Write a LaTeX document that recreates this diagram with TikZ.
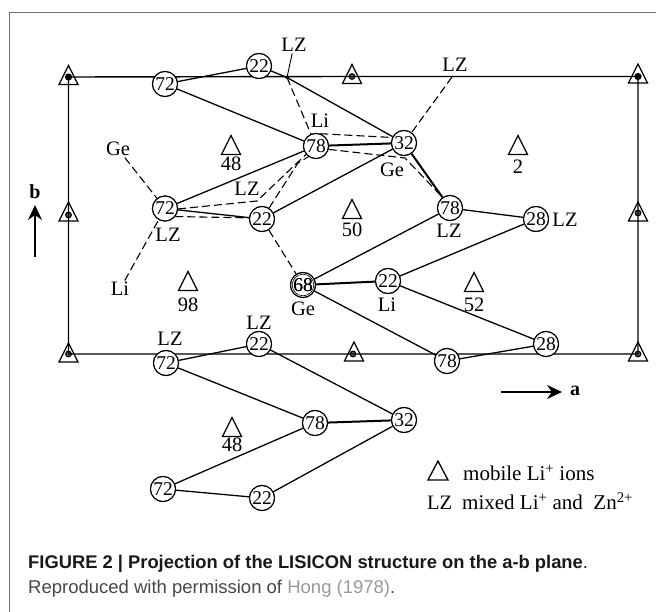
\documentclass[tikz,border=0pt]{standalone}
\usepackage{fontspec}
\setmainfont{Liberation Serif}
\newfontfamily\capfont{Liberation Sans}
\usetikzlibrary{arrows.meta}
\definecolor{framegray}{gray}{0.45}
\definecolor{capdark}{gray}{0.1}
\definecolor{capgray}{gray}{0.6}
\tikzset{
  x=1pt,y=-1pt,
  site/.style={circle,draw,line width=1.1pt,minimum size=25pt,inner sep=0pt,font=\fontsize{19.5}{15}\selectfont,fill=white},
  lab/.style={inner sep=1.5pt,font=\fontsize{20.5}{15}\selectfont},
  legendtext/.style={anchor=west,inner sep=0pt,font=\fontsize{21}{15}\selectfont},
  tri/.style={line width=1.3pt,line join=miter},
  bond/.style={line width=1.3pt},
  heavy/.style={line width=2pt},
  dbond/.style={line width=1.1pt,dash pattern=on 8pt off 4pt},
  cell/.style={line width=1.4pt},
  axis/.style={line width=1.2pt,-{Stealth[length=15pt,width=14pt,inset=5pt]}},
  axlabel/.style={inner sep=0pt,font=\fontsize{20}{15}\selectfont\bfseries},
  capl/.style={anchor=west,inner sep=0pt},
}
\newcommand{\mytri}[2]{\draw[tri] (#1-9.5,#2+9.5) -- (#1,#2-9.5) -- (#1+9.5,#2+9.5) -- cycle;}
\begin{document}
\begin{tikzpicture}
\useasboundingbox (0,0) rectangle (656,612);
\draw[framegray,line width=1.2pt] (9.5,612) -- (9.5,12.8) -- (656,12.8);

% unit cell
\coordinate (c1) at (68.5,77); \coordinate (c2) at (352,76.5); \coordinate (c3) at (638,76.5);
\coordinate (c4) at (68.5,215); \coordinate (c5) at (638,213);
\coordinate (c6) at (68.5,354); \coordinate (c7) at (353,354); \coordinate (c8) at (638,354);
\draw[cell] (c1) -- (c2) -- (c3) -- (c5) -- (c8) -- (c7) -- (c6) -- (c4) -- (c1);
\foreach \x/\y in {68.5/75,352/74,638/73.5,68.5/211.5,638/211.5,68.5/352.5,354/351.5,638/351.5}{\mytri{\x}{\y}}
\fill (c1) circle (3.6pt); \fill (c3) circle (3.6pt);
\foreach \c in {c2,c7,c4,c5,c6,c8}{\draw[line width=1.2pt,fill=black,fill opacity=0.6] (\c) circle (2.8pt);}

% sites
\node[site] (ta) at (165,84) {72};
\node[site] (tb) at (259,66) {22};
\node[site] (tc) at (316,146) {78};
\node[site] (td) at (404,143) {32};
\node[site] (ma) at (165,208.5) {72};
\node[site] (mb) at (262,219) {22};
\node[site] (mc) at (303,285) {68};
\node[site] (md) at (450,208) {78};
\node[site] (me) at (536,219) {28};
\node[site] (mf) at (388,281) {22};
\node[site] (la) at (166,363) {72};
\node[site] (lb) at (259,344) {22};
\node[site] (lc) at (447,361) {78};
\node[site] (ld) at (546,344) {28};
\node[site] (ba) at (315,423) {78};
\node[site] (bb) at (404,420) {32};
\node[site] (bc) at (163,489) {72};
\node[site] (bd) at (262,498) {22};

% labels
\node[lab] (l1) at (294,45) {LZ};
\node[lab] (l2) at (455,65) {LZ};
\node[lab] (l3) at (320,121) {Li};
\node[lab] (l4) at (118,149) {Ge};
\node[lab] (l5) at (247,189) {LZ};
\node[lab] (l6) at (168,235) {LZ};
\node[lab] (l7) at (120,289) {Li};
\node[lab] (l8) at (392,170) {Ge};
\node[lab] (l9) at (449,231) {LZ};
\node[lab] (l10) at (565,220) {LZ};
\node[lab] (l11) at (303,309) {Ge};
\node[lab] (l12) at (387,305) {Li};
\node[lab] (l13) at (259,323) {LZ};
\node[lab] (l14) at (170,339) {LZ};

% free triangles
\foreach \x/\y/\t/\ty in {231/145/48/164,518/145/2/167,352/209/50/230,188/281/98/305,474/282/52/305,232/427/48/445}{
  \mytri{\x}{\y}
  \node[lab] at (\x,\ty) {\t};
}

% solid bonds
\coordinate (pz) at (287,77.5);
\coordinate (pl) at (452,77);
\draw[bond] (ta) -- (tb);
\draw[bond] (ta) -- (tc);
\draw[bond] (tb) -- (pz) -- (td);
\draw[heavy] (tc) -- (td);
\draw[bond] (ma) -- (tc);
\draw[bond] (ma) -- (mb);
\draw[bond] (mb) -- (td);
\draw[heavy] (td) -- (md);
\draw[bond] (mc) -- (md);
\draw[bond] (md) -- (me);
\draw[bond] (me) -- (mf);
\draw[heavy] (mc) -- (mf);
\draw[bond] (mf) -- (ld);
\draw[bond] (mc) -- (lc);
\draw[bond] (lc) -- (ld);
\draw[bond] (la) -- (lb);
\draw[bond] (la) -- (ba);
\draw[bond] (lb) -- (bb);
\draw[heavy] (ba) -- (bb);
\draw[bond] (bc) -- (ba);
\draw[bond] (bc) -- (bd);
\draw[bond] (bd) -- (bb);
\draw[line width=0.9pt] (l1) -- (pz);
\fill (pz) circle (1.8pt);

% dashed bonds
\coordinate (q1) at (257,201);
\coordinate (q2) at (298,163);
\coordinate (q3) at (405,158);
\draw[dbond] (pz) -- (tc);
\draw[dbond] (pl) -- (td);
\draw[dbond] (l4) -- (ma);
\draw[dbond] (l7) -- (ma);
\draw[dbond] (ma.-2) -- (q1) -- (tc.-140);
\draw[dbond] (ma.-38) -- (mb.175);
\draw[dbond] (mb) -- (q2) -- (tc.-125);
\draw[dbond] (mb) -- (mc);
\draw[dbond] (tc.70) -- (td.155);
\draw[dbond] (tc.-15) -- (q3) -- (md.125);

% re-draw sites over connectors
\foreach \n/\t in {ta/72,tb/22,tc/78,td/32,ma/72,mb/22,mc/68,md/78,me/28,mf/22,la/72,lb/22,lc/78,ld/28,ba/78,bb/32,bc/72,bd/22}{
  \node[site] at (\n) {\t};
}
\draw[line width=0.6pt] (mc) circle (10.8pt);
\node[site,draw=none,fill=none] at (mc) {68};

% axes
\coordinate (b0) at (35,257); \coordinate (b1) at (35,205);
\draw[axis] (b0) -- (b1);
\node[axlabel] at (35,192) {b};
\coordinate (a0) at (501,392); \coordinate (a1) at (562,392);
\draw[axis] (a0) -- (a1);
\node[axlabel] at (575,391) {a};

% legend
\draw[tri] (428,480) -- (438,461) -- (448,480) -- cycle;
\node[legendtext] at (463,473) {mobile Li\textsuperscript{+} ions};
\node[legendtext,font=\fontsize{20.5}{15}\selectfont] at (427,503) {LZ};
\node[legendtext] at (462,501) {mixed Li\textsuperscript{+} and\ \ Zn\textsuperscript{2+}};

% caption
\node[capl,font=\capfont\fontsize{18.35}{15}\selectfont\bfseries,text=capdark] at (28,563.5) {FIGURE 2 | Projection of the LISICON structure on the a-b plane\textmd{.}};
\node[capl,font=\capfont\fontsize{18.5}{15}\selectfont,text=capdark!80!white] at (28,589) {Reproduced with permission of \textcolor{capgray}{Hong (1978)}.};
\end{tikzpicture}
\end{document}
